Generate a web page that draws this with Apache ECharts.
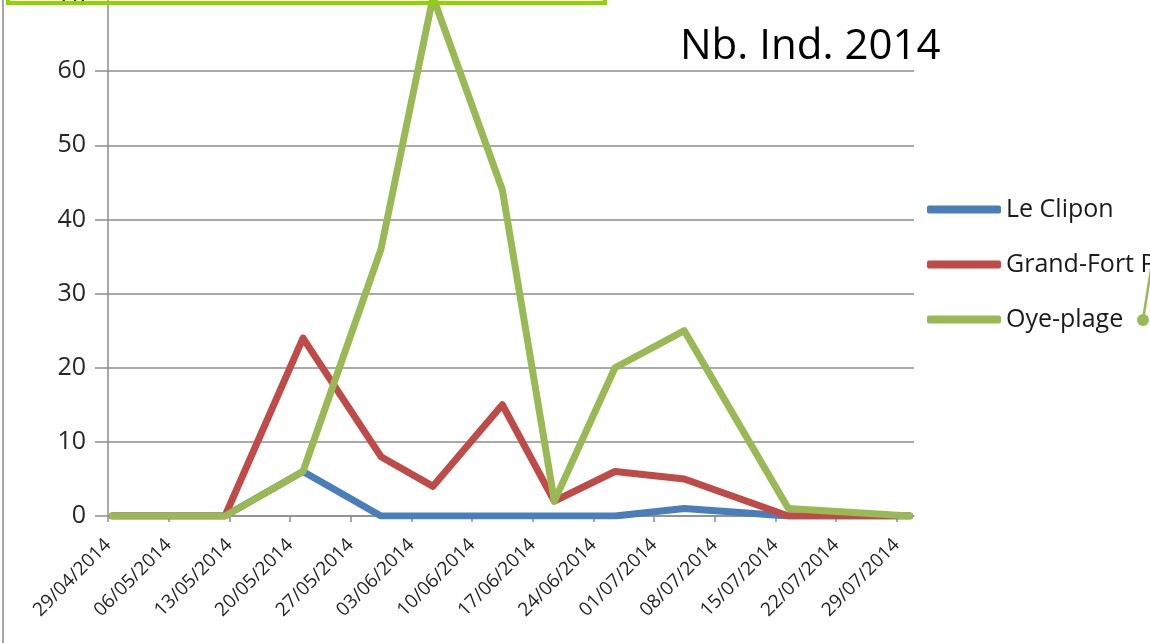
<!DOCTYPE html>
<html>
<head>
<meta charset="utf-8">
<script src="https://cdn.jsdelivr.net/npm/echarts@6/dist/echarts.min.js"></script>
<style>
html,body{margin:0;padding:0;background:#fff;overflow:hidden;width:1150px;height:643px;position:relative;}
#chart{position:absolute;left:0;top:-17px;width:1150px;height:660px;}
</style>
</head>
<body>
<div id="chart"></div>
<script>
// ---- data ----
const tickLabels = ['29/04/2014','06/05/2014','13/05/2014','20/05/2014','27/05/2014','03/06/2014','10/06/2014','17/06/2014','24/06/2014','01/07/2014','08/07/2014','15/07/2014','22/07/2014','29/07/2014'];
const obsDates = ['29/04/2014','12/05/2014','21/05/2014','30/05/2014','05/06/2014','13/06/2014','19/06/2014','26/06/2014','04/07/2014','16/07/2014','30/07/2014'];
const seriesNames = ['Le Clipon','Grand-Fort Philippe','Oye-plage'];
const leClipon  = [0, 0, 6, 0, 0, 0, 0, 0, 1, 0, 0];
const grandFort = [0, 0, 24, 8, 4, 15, 2, 6, 5, 0, 0];
const oyePlage  = [0, 0, 6, 36, 70, 44, 2, 20, 25, 1, 0];
const axisStart = '29/04/2014';
const axisEnd = '31/07/2014';
const yTicks = [0, 10, 20, 30, 40, 50, 60, 70];

// ---- helpers ----
const DAY = 86400000;
function parseDate(s){ const p = s.split('/').map(Number); return Date.UTC(p[2], p[1]-1, p[0]); }
const tickValues = tickLabels.map(parseDate);
// Excel date axis: points sit in the middle of their day slot
function pts(vals){ return obsDates.map((d,i)=>[parseDate(d) + DAY/2, vals[i]]); }

const FONT = 'Open Sans';
const colors = ['#4a7ebb', '#be4b48', '#98b954'];

const chart = echarts.init(document.getElementById('chart'), null, {renderer:'canvas'});
const lineSeries = [leClipon, grandFort, oyePlage].map((vals, i) => ({
  name: seriesNames[i],
  type: 'line',
  data: pts(vals),
  showSymbol: false,
  symbol: 'none',
  color: colors[i],
  lineStyle: { width: 7, color: colors[i], join: 'round', cap: 'round' },
  animation: false,
  z: 2 + i
}));

chart.setOption({
  animation: false,
  backgroundColor: '#ffffff',
  textStyle: { fontFamily: FONT },
  title: {
    text: 'Nb. Ind. 2014',
    left: 675, top: 38,
    textStyle: { fontFamily: FONT, fontSize: 42, fontWeight: 'normal', color: '#000' }
  },
  grid: { left: 108, right: 236, top: 14, bottom: 127 },
  xAxis: {
    type: 'value',
    min: parseDate(axisStart),
    max: parseDate(axisEnd),
    splitLine: { show: false },
    axisLine: { show: true, lineStyle: { color: '#8c8c8c', width: 1.5 } },
    axisTick: { show: true, length: 6, customValues: tickValues, lineStyle: { color: '#8c8c8c', width: 1.5 } },
    axisLabel: {
      customValues: tickValues,
      rotate: 45,
      margin: 26,
      fontFamily: FONT,
      fontSize: 19,
      color: '#1f1f1f',
      formatter: (v) => { const i = tickValues.indexOf(v); return i >= 0 ? tickLabels[i] : ''; }
    }
  },
  yAxis: {
    type: 'value',
    min: yTicks[0], max: yTicks[yTicks.length-1], interval: 10,
    axisLine: { show: true, lineStyle: { color: '#8c8c8c', width: 1.5 } },
    axisTick: { show: true, length: 13, lineStyle: { color: '#8c8c8c', width: 1.5 } },
    splitLine: { show: true, lineStyle: { color: '#8c8c8c', width: 1.5 } },
    axisLabel: { fontFamily: FONT, fontSize: 25, color: '#262626', margin: 22 }
  },
  legend: {
    orient: 'vertical',
    left: 922, top: 209,
    itemWidth: 74, itemHeight: 8, itemGap: 30,
    icon: 'roundRect',
    textStyle: { fontFamily: FONT, fontSize: 25, color: '#1a1a1a' },
    data: seriesNames
  },
  series: lineSeries,
  graphic: [
    { type: 'line', shape: { x1: 3, y1: 0, x2: 3, y2: 660 }, style: { stroke: '#a6a6a6', lineWidth: 2 }, z: 10 },
    { type: 'rect', shape: { x: 8, y: -13, width: 597, height: 33 }, style: { stroke: '#8fd400', lineWidth: 4, fill: 'rgba(0,0,0,0)' }, z: 20 },
    { type: 'line', shape: { x1: 1143, y1: 337, x2: 1154, y2: 267 }, style: { stroke: '#98b954', lineWidth: 2.5 }, z: 20 },
    { type: 'circle', shape: { cx: 1143, cy: 337, r: 6 }, style: { fill: '#98b954' }, z: 21 }
  ]
});
</script>
</body>
</html>
